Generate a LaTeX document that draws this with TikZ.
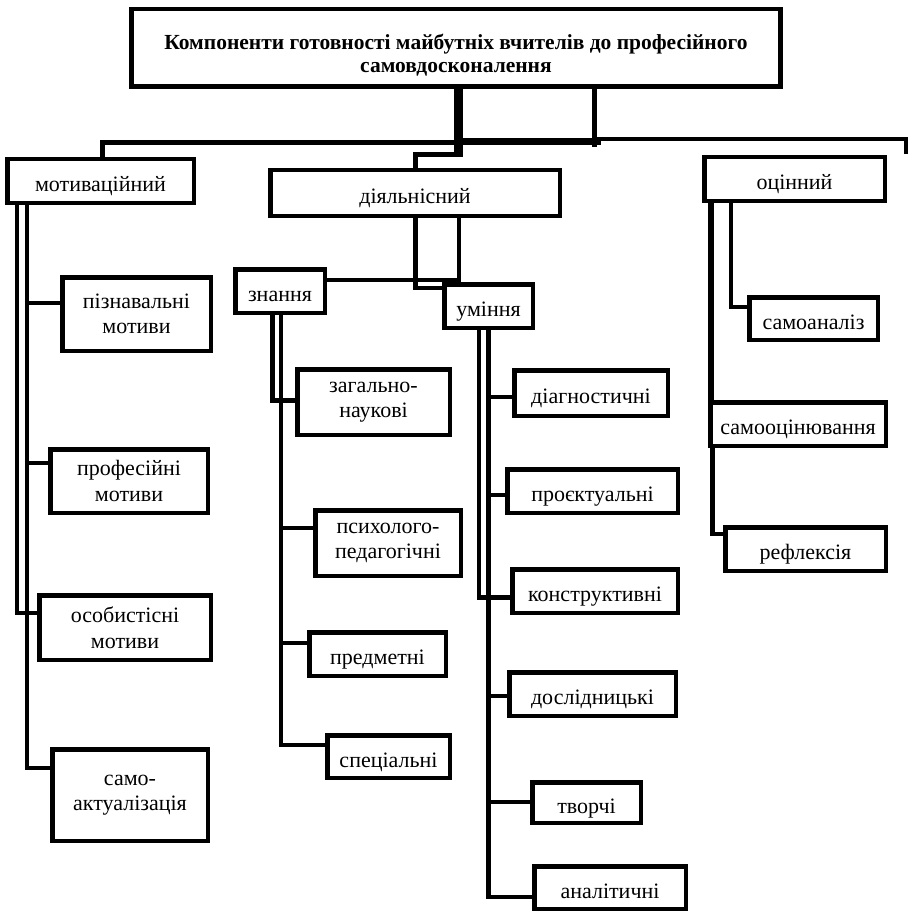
\documentclass[tikz,border=0pt]{standalone}
\usepackage{fontspec}
\setmainfont{Liberation Serif}
\usetikzlibrary{backgrounds}
\begin{document}
\begin{tikzpicture}[x=1pt,y=-1pt,
  box/.style={draw, line width=4.5pt, inner sep=0pt, align=center, fill=white,
    font=\fontsize{22}{25.5}\selectfont},
  one/.style={box, text height=21pt, text depth=0pt},
  ttl/.style={box, font=\fontsize{21.5}{23}\selectfont\bfseries},
  ln/.style={line width=4.5pt, line cap=rect, line join=miter},
  thinln/.style={ln, line width=3.5pt},
  fatln/.style={ln, line width=9pt},
]
\useasboundingbox (0,0) rectangle (912,912);

% boxes
\node[ttl, minimum width=649, minimum height=77.5] (title) at (456,48)
  {\rule{0pt}{29pt}Компоненти готовності майбутніх вчителів до професійного\\самовдосконалення};
\node[one, minimum width=186.5, minimum height=43.5] (motiv) at (100.5,181) {мотиваційний};
\node[one, minimum width=289.5, minimum height=45.5] (diyal) at (415,193) {діяльнісний};
\node[one, minimum width=180.5, minimum height=43.5] (otsin) at (794.5,179) {оцінний};

\node[box, minimum width=148.5, minimum height=73.5] (pizn) at (136.5,314) {пізнавальні\\мотиви};
\node[box, minimum width=157.5, minimum height=63.5] (prof) at (129,481) {професійні\\мотиви};
\node[box, minimum width=171.5, minimum height=64.5] (osob) at (125,627.5) {особистісні\\мотиви};
\node[box, minimum width=155.5, minimum height=91.5] (samoakt) at (130,795) {само-\\актуалізація};

\node[one, minimum width=89.5, minimum height=43.5] (znan) at (280,291) {знання};
\node[one, minimum width=88.5, minimum height=43.5] (umin) at (488.5,306) {уміння};

\node[box, minimum width=152.5, minimum height=65.5] (zahal) at (373.5,402) {загально-\\наукові};
\node[box, minimum width=145.5, minimum height=65.5] (psykh) at (388,543) {психолого-\\педагогічні};
\node[one, minimum width=136.5, minimum height=43.5] (predm) at (377.5,654) {предметні};
\node[one, minimum width=122.5, minimum height=42.5] (spets) at (388.5,756.5) {спеціальні};

\node[one, minimum width=153.5, minimum height=45.5] (diagn) at (591,393) {діагностичні};
\node[one, minimum width=170.5, minimum height=43.5] (proekt) at (592.5,491) {проєктуальні};
\node[one, minimum width=165.5, minimum height=43.5] (konstr) at (595,591) {конструктивні};
\node[one, minimum width=166.5, minimum height=43.5] (doslid) at (592.5,694) {дослідницькі};
\node[one, minimum width=108.5, minimum height=40.5] (tvor) at (586.5,802.5) {творчі};
\node[one, minimum width=151.5, minimum height=42.5] (analit) at (610,887.5) {аналітичні};

\node[one, minimum width=128.5, minimum height=42.5] (samoan) at (813.5,318.5) {самоаналіз};
\node[one, minimum width=175.5, minimum height=43.5] (samoots) at (798,424) {самооцінювання};
\node[one, minimum width=160.5, minimum height=43.5] (refl) at (805.5,549) {рефлексія};

% junction coordinates
\coordinate (tA) at (458,157);
\coordinate (tJ) at (458,154.5);
\coordinate (dJ) at (415.5,154.5);
\coordinate (tB) at (594.5,145);
\coordinate (hL) at (102.5,142.5);
\coordinate (hM) at (597,142.5);
\coordinate (hT1) at (458,141.5);
\coordinate (hT2) at (597,141.5);
\coordinate (hR0) at (595,139.5);
\coordinate (hR) at (906,139.5);
\coordinate (hS) at (906,152);

\coordinate (mo) at (17.2,613);
\coordinate (mi) at (27.2,768);
\coordinate (m1) at (27.2,303);
\coordinate (m2) at (27.2,463);

\coordinate (dl) at (415.5,288);
\coordinate (dr) at (459,280);

\coordinate (zl) at (272.5,400.5);
\coordinate (zr) at (281,745);
\coordinate (z1) at (281,528);
\coordinate (z2) at (281,643);

\coordinate (ul) at (479,597.5);
\coordinate (ur) at (488.5,897);
\coordinate (u1) at (488.5,397);
\coordinate (u2) at (488.5,495);
\coordinate (u3) at (488.5,696);
\coordinate (u4) at (488.5,802);

\coordinate (ol) at (711,300);
\coordinate (or) at (731,306.5);
\coordinate (sr) at (712.5,534);

\begin{scope}[on background layer]
  \fill[white] (0,0) rectangle (912,912);
  % top trunk
  \draw[fatln, line cap=butt] (title.south -| tA) -- (tA);
  \draw[ln, line width=5pt] (tJ) -- (dJ) -- (dJ |- diyal.north);
  \draw[ln, line width=5pt] (title.south -| tB) -- (tB);
  \draw[ln, line width=5pt] (hL) -- (hM);
  \draw[ln, line width=7pt] (hT1) -- (hT2);
  \draw[ln, line width=4pt] (hR0) -- (hR) -- (hS);
  \draw[ln, line width=5pt] (hL) -- (hL |- motiv.north);

  % motivational
  \draw[ln] (motiv.south -| mo) -- (mo) -- (mo -| osob.west);
  \draw[ln] (motiv.south -| mi) -- (mi) -- (mi -| samoakt.west);
  \draw[ln] (m1) -- (m1 -| pizn.west);
  \draw[ln] (m2) -- (m2 -| prof.west);

  % activity
  \draw[ln] (diyal.south -| dl) -- (dl) -- (dl -| umin.west);
  \draw[ln] (diyal.south -| dr) -- (dr);
  \draw[thinln] (znan.east |- dr) -- (dr);

  % knowledge
  \draw[ln] (znan.south -| zl) -- (zl) -- (zl -| zahal.west);
  \draw[ln] (znan.south -| zr) -- (zr) -- (zr -| spets.west);
  \draw[ln] (z1) -- (z1 -| psykh.west);
  \draw[ln] (z2) -- (z2 -| predm.west);

  % skills
  \draw[ln] (umin.south -| ul) -- (ul) -- (ul -| konstr.west);
  \draw[ln] (umin.south -| ur) -- (ur) -- (ur -| analit.west);
  \draw[ln] (u1) -- (u1 -| diagn.west);
  \draw[ln] (u2) -- (u2 -| proekt.west);
  \draw[ln] (u3) -- (u3 -| doslid.west);
  \draw[ln] (u4) -- (u4 -| tvor.west);

  % evaluative
  \draw[ln, line width=6pt] (otsin.south -| ol) -- (samoots.north -| ol);
  \draw[ln, line width=4pt] (otsin.south -| or) -- (or) -- (or -| samoan.west);
  \draw[ln] (samoots.south -| sr) -- (sr) -- (sr -| refl.west);
\end{scope}
\end{tikzpicture}
\end{document}
